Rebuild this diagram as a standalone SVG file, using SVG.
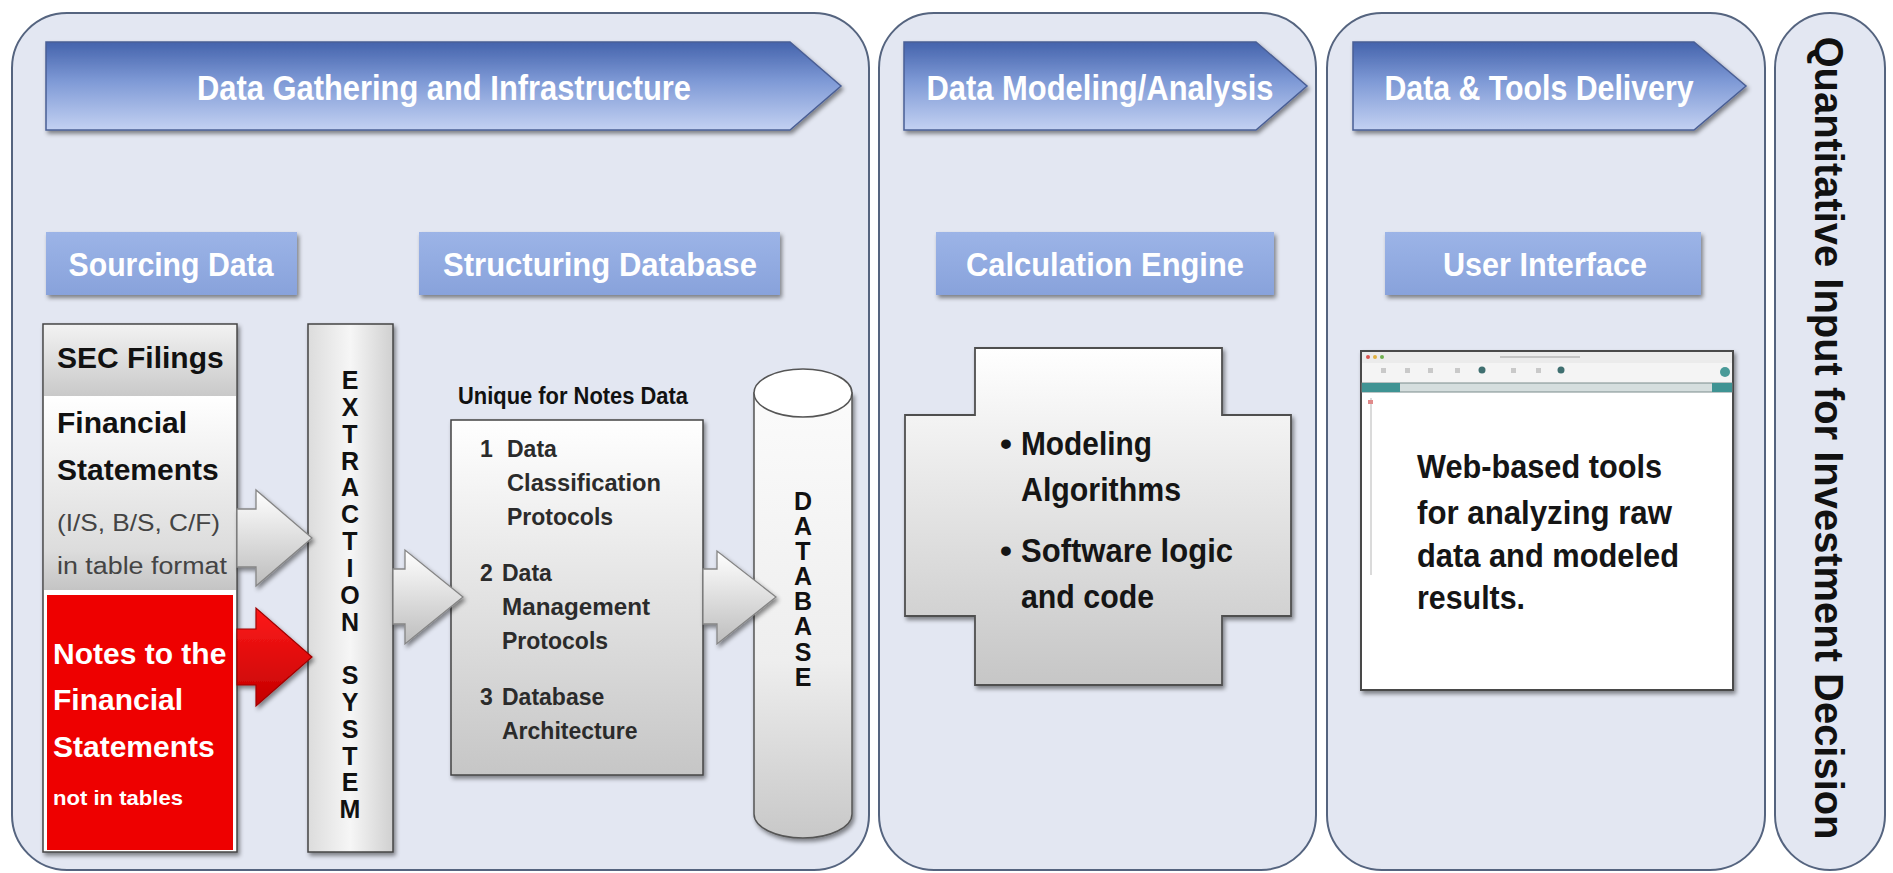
<svg xmlns="http://www.w3.org/2000/svg" width="1893" height="873" viewBox="0 0 1893 873">
<defs>
<style>
.panel{fill:#e3e7f2;stroke:#55647f;stroke-width:2}
.hdr{font-family:"Liberation Sans",Arial,sans-serif;font-weight:bold;font-size:35px;fill:#ffffff;text-anchor:middle}
.sub{font-family:"Liberation Sans",Arial,sans-serif;font-weight:bold;font-size:33px;fill:#ffffff;text-anchor:middle}
.b{font-family:"Liberation Sans",Arial,sans-serif;font-weight:bold;fill:#111111}
.r{font-family:"Liberation Sans",Arial,sans-serif;fill:#444444}
.w{font-family:"Liberation Sans",Arial,sans-serif;font-weight:bold;fill:#ffffff}
.vl{font-family:"Liberation Sans",Arial,sans-serif;font-weight:bold;font-size:25px;fill:#111111;text-anchor:middle}
.nt{font-family:"Liberation Sans",Arial,sans-serif;font-weight:bold;font-size:23px;fill:#2b2b2b}
.big{font-family:"Liberation Sans",Arial,sans-serif;font-weight:bold;font-size:34px;fill:#151515}
.box{stroke:#444444;stroke-width:1.5}
.garrow{fill:url(#gArrow);stroke:#858585;stroke-width:1.3}
</style>
<linearGradient id="gChev" x1="0" y1="0" x2="0" y2="1">
<stop offset="0" stop-color="#4463ac"/>
<stop offset="0.45" stop-color="#7f9ad6"/>
<stop offset="1" stop-color="#c3d1f2"/>
</linearGradient>
<linearGradient id="gSub" x1="0" y1="0" x2="0" y2="1">
<stop offset="0" stop-color="#9cb4e7"/>
<stop offset="1" stop-color="#88a2db"/>
</linearGradient>
<linearGradient id="gGray" x1="0" y1="0" x2="0" y2="1">
<stop offset="0" stop-color="#ffffff"/>
<stop offset="1" stop-color="#c6c6c6"/>
</linearGradient>
<linearGradient id="gSec" x1="0" y1="0" x2="0" y2="1">
<stop offset="0" stop-color="#f2f2f2"/>
<stop offset="1" stop-color="#c9c9c9"/>
</linearGradient>
<linearGradient id="gFin" x1="0" y1="0" x2="0" y2="1">
<stop offset="0" stop-color="#ffffff"/>
<stop offset="0.8" stop-color="#dcdcdc"/>
<stop offset="1" stop-color="#c4c4c4"/>
</linearGradient>
<linearGradient id="gExt" x1="0" y1="0" x2="1" y2="0">
<stop offset="0" stop-color="#dcdcdc"/>
<stop offset="0.5" stop-color="#f6f6f6"/>
<stop offset="1" stop-color="#d0d0d0"/>
</linearGradient>
<linearGradient id="gCyl" x1="0" y1="0" x2="0" y2="1">
<stop offset="0" stop-color="#fbfbfb"/>
<stop offset="0.6" stop-color="#eeeeee"/>
<stop offset="1" stop-color="#c8c8c8"/>
</linearGradient>
<linearGradient id="gArrow" x1="0" y1="0" x2="0" y2="1">
<stop offset="0" stop-color="#ffffff"/>
<stop offset="1" stop-color="#bdbdbd"/>
</linearGradient>
<linearGradient id="gRed" x1="0" y1="0" x2="0" y2="1">
<stop offset="0" stop-color="#ff1a1a"/>
<stop offset="1" stop-color="#c40000"/>
</linearGradient>
<filter id="sh" x="-10%" y="-10%" width="130%" height="130%">
<feDropShadow dx="2" dy="3" stdDeviation="2" flood-color="#000000" flood-opacity="0.45"/>
</filter>
</defs>

<rect x="0" y="0" width="1893" height="873" fill="#ffffff"/>

<g id="panels">
<rect id="panel-gathering" class="panel" x="12" y="13" width="857" height="857" rx="55" ry="55"/>
<rect id="panel-modeling" class="panel" x="879" y="13" width="437" height="857" rx="55" ry="55"/>
<rect id="panel-delivery" class="panel" x="1327" y="13" width="438" height="857" rx="55" ry="55"/>
<rect id="panel-decision" class="panel" x="1775" y="13" width="110" height="857" rx="55" ry="55"/>
</g>

<g id="header-gathering">
<polygon points="46,42 790,42 841,86 790,130 46,130" fill="url(#gChev)" stroke="#4a5f95" stroke-width="1.5" filter="url(#sh)"/>
<text class="hdr" x="444" y="100" textLength="494" lengthAdjust="spacingAndGlyphs">Data Gathering and Infrastructure</text>
</g>
<g id="header-modeling">
<polygon points="904,42 1256,42 1307,86 1256,130 904,130" fill="url(#gChev)" stroke="#4a5f95" stroke-width="1.5" filter="url(#sh)"/>
<text class="hdr" x="1100" y="100" textLength="347" lengthAdjust="spacingAndGlyphs">Data Modeling/Analysis</text>
</g>
<g id="header-delivery">
<polygon points="1353,42 1694,42 1746,86 1694,130 1353,130" fill="url(#gChev)" stroke="#4a5f95" stroke-width="1.5" filter="url(#sh)"/>
<text class="hdr" x="1539" y="100" textLength="309" lengthAdjust="spacingAndGlyphs">Data &amp; Tools Delivery</text>
</g>

<g id="sub-sourcing">
<rect x="46" y="232" width="251" height="63" fill="url(#gSub)" filter="url(#sh)"/>
<text class="sub" x="171" y="276" textLength="205" lengthAdjust="spacingAndGlyphs">Sourcing Data</text>
</g>
<g id="sub-structuring">
<rect x="419" y="232" width="361" height="63" fill="url(#gSub)" filter="url(#sh)"/>
<text class="sub" x="600" y="276" textLength="314" lengthAdjust="spacingAndGlyphs">Structuring Database</text>
</g>
<g id="sub-calculation">
<rect x="936" y="232" width="338" height="63" fill="url(#gSub)" filter="url(#sh)"/>
<text class="sub" x="1105" y="276" textLength="278" lengthAdjust="spacingAndGlyphs">Calculation Engine</text>
</g>
<g id="sub-ui">
<rect x="1385" y="232" width="316" height="63" fill="url(#gSub)" filter="url(#sh)"/>
<text class="sub" x="1545" y="276" textLength="204" lengthAdjust="spacingAndGlyphs">User Interface</text>
</g>

<g id="sec-filings">
<rect x="43" y="324" width="194" height="528" fill="#ffffff" class="box" filter="url(#sh)"/>
<rect x="44" y="325" width="192" height="71" fill="url(#gSec)"/>
<rect x="44" y="396" width="192" height="194" fill="url(#gFin)"/>
<rect x="47" y="595" width="186" height="255" fill="#ee0000"/>
<text class="b" x="57" y="368" font-size="30">SEC Filings</text>
<text class="b" x="57" y="433" font-size="30">Financial</text>
<text class="b" x="57" y="480" font-size="30">Statements</text>
<text class="r" x="57" y="531" font-size="24" textLength="163" lengthAdjust="spacingAndGlyphs">(I/S, B/S, C/F)</text>
<text class="r" x="57" y="574" font-size="23" textLength="170" lengthAdjust="spacingAndGlyphs">in table format</text>
<text class="w" x="53" y="664" font-size="30">Notes to the</text>
<text class="w" x="53" y="710" font-size="30">Financial</text>
<text class="w" x="53" y="757" font-size="30">Statements</text>
<text class="w" x="53" y="805" font-size="21" textLength="130" lengthAdjust="spacingAndGlyphs">not in tables</text>
</g>

<g id="extraction-system">
<rect x="308" y="324" width="85" height="528" fill="url(#gExt)" class="box" filter="url(#sh)"/>
<text class="vl">
<tspan x="350" y="389">E</tspan><tspan x="350" y="416">X</tspan><tspan x="350" y="443">T</tspan><tspan x="350" y="470">R</tspan><tspan x="350" y="496">A</tspan><tspan x="350" y="523">C</tspan><tspan x="350" y="550">T</tspan><tspan x="350" y="577">I</tspan><tspan x="350" y="604">O</tspan><tspan x="350" y="631">N</tspan><tspan x="350" y="684">S</tspan><tspan x="350" y="711">Y</tspan><tspan x="350" y="738">S</tspan><tspan x="350" y="765">T</tspan><tspan x="350" y="791">E</tspan><tspan x="350" y="818">M</tspan>
</text>
</g>

<g id="notes-protocols">
<text class="b" x="458" y="404" font-size="23" textLength="230" lengthAdjust="spacingAndGlyphs">Unique for Notes Data</text>
<rect x="451" y="420" width="252" height="355" fill="url(#gGray)" class="box" filter="url(#sh)"/>
<text class="nt" x="480" y="457">1</text>
<text class="nt" x="507" y="457">Data</text>
<text class="nt" x="507" y="491" textLength="154" lengthAdjust="spacingAndGlyphs">Classification</text>
<text class="nt" x="507" y="525">Protocols</text>
<text class="nt" x="480" y="581">2</text>
<text class="nt" x="502" y="581">Data</text>
<text class="nt" x="502" y="615" textLength="148" lengthAdjust="spacingAndGlyphs">Management</text>
<text class="nt" x="502" y="649">Protocols</text>
<text class="nt" x="480" y="705">3</text>
<text class="nt" x="502" y="705">Database</text>
<text class="nt" x="502" y="739">Architecture</text>
</g>

<g id="database">
<path d="M754,393 V814 A49,24 0 0 0 852,814 V393 Z" fill="url(#gCyl)" stroke="#555555" stroke-width="1.5" filter="url(#sh)"/>
<ellipse cx="803" cy="393" rx="49" ry="24" fill="#ffffff" stroke="#555555" stroke-width="1.5"/>
<text class="vl" font-size="24">
<tspan x="803" y="510">D</tspan><tspan x="803" y="535">A</tspan><tspan x="803" y="560">T</tspan><tspan x="803" y="585">A</tspan><tspan x="803" y="610">B</tspan><tspan x="803" y="635">A</tspan><tspan x="803" y="661">S</tspan><tspan x="803" y="686">E</tspan>
</text>
</g>

<g id="calculation-engine">
<path d="M975,348 H1222 V415 H1291 V616 H1222 V685 H975 V616 H905 V415 H975 Z" fill="url(#gGray)" stroke="#505050" stroke-width="1.8" filter="url(#sh)"/>
<text class="big" x="1000" y="455">•</text>
<text class="big" x="1021" y="455" textLength="131" lengthAdjust="spacingAndGlyphs">Modeling</text>
<text class="big" x="1021" y="501" textLength="160" lengthAdjust="spacingAndGlyphs">Algorithms</text>
<text class="big" x="1000" y="562">•</text>
<text class="big" x="1021" y="562" textLength="212" lengthAdjust="spacingAndGlyphs">Software logic</text>
<text class="big" x="1021" y="608" textLength="133" lengthAdjust="spacingAndGlyphs">and code</text>
</g>

<g id="user-interface">
<rect x="1361" y="351" width="372" height="339" fill="#ffffff" stroke="#4a4a4a" stroke-width="2" filter="url(#sh)"/>
<rect x="1362" y="352" width="370" height="11" fill="#ebebeb"/>
<circle cx="1368" cy="357" r="2" fill="#d9534f"/>
<circle cx="1375" cy="357" r="2" fill="#e0b040"/>
<circle cx="1382" cy="357" r="2" fill="#6fb04f"/>
<rect x="1500" y="356" width="80" height="2" fill="#c4c4c4"/>
<rect x="1362" y="363" width="370" height="20" fill="#f4f4f4"/>
<g fill="#c9c9c9">
<rect x="1381" y="368" width="5" height="5"/><rect x="1405" y="368" width="5" height="5"/><rect x="1428" y="368" width="5" height="5"/><rect x="1455" y="368" width="5" height="5"/>
<rect x="1511" y="368" width="5" height="5"/><rect x="1536" y="368" width="5" height="5"/>
</g>
<circle cx="1482" cy="370" r="3.5" fill="#3f6f70"/>
<circle cx="1561" cy="370" r="3.5" fill="#3f6f70"/>
<circle cx="1725" cy="372" r="5" fill="#4a9a98"/>
<rect x="1362" y="383" width="370" height="9" fill="#d5dede" stroke="#7b8c8c" stroke-width="1"/>
<rect x="1362" y="383" width="38" height="9" fill="#3f9393"/>
<rect x="1712" y="383" width="20" height="9" fill="#3f9393"/>
<line x1="1371" y1="398" x2="1371" y2="575" stroke="#dadada" stroke-width="2"/>
<rect x="1368" y="400" width="5" height="4" fill="#e08a8a"/>
<text class="big" x="1417" y="478" textLength="245" lengthAdjust="spacingAndGlyphs">Web-based tools</text>
<text class="big" x="1417" y="524" textLength="255" lengthAdjust="spacingAndGlyphs">for analyzing raw</text>
<text class="big" x="1417" y="567" textLength="262" lengthAdjust="spacingAndGlyphs">data and modeled</text>
<text class="big" x="1417" y="609" textLength="108" lengthAdjust="spacingAndGlyphs">results.</text>
</g>

<g id="decision">
<text class="b" font-size="41" text-anchor="middle" transform="translate(1815,438) rotate(90)" textLength="803" lengthAdjust="spacingAndGlyphs">Quantitative Input for Investment Decision</text>
</g>

<g id="connectors">
<path class="garrow" d="M237,509 H256 V490 L312,538 L256,586 V567 H237 Z" filter="url(#sh)"/>
<path d="M237,629 H256 V608 L312,657 L256,706 V685 H237 Z" fill="url(#gRed)" stroke="#a00000" stroke-width="1.2" filter="url(#sh)"/>
<path class="garrow" d="M393,569 H405 V550 L463,597 L405,644 V624 H393 Z" filter="url(#sh)"/>
<path class="garrow" d="M703,569 H717 V551 L776,597 L717,644 V624 H703 Z" filter="url(#sh)"/>
</g>
</svg>
